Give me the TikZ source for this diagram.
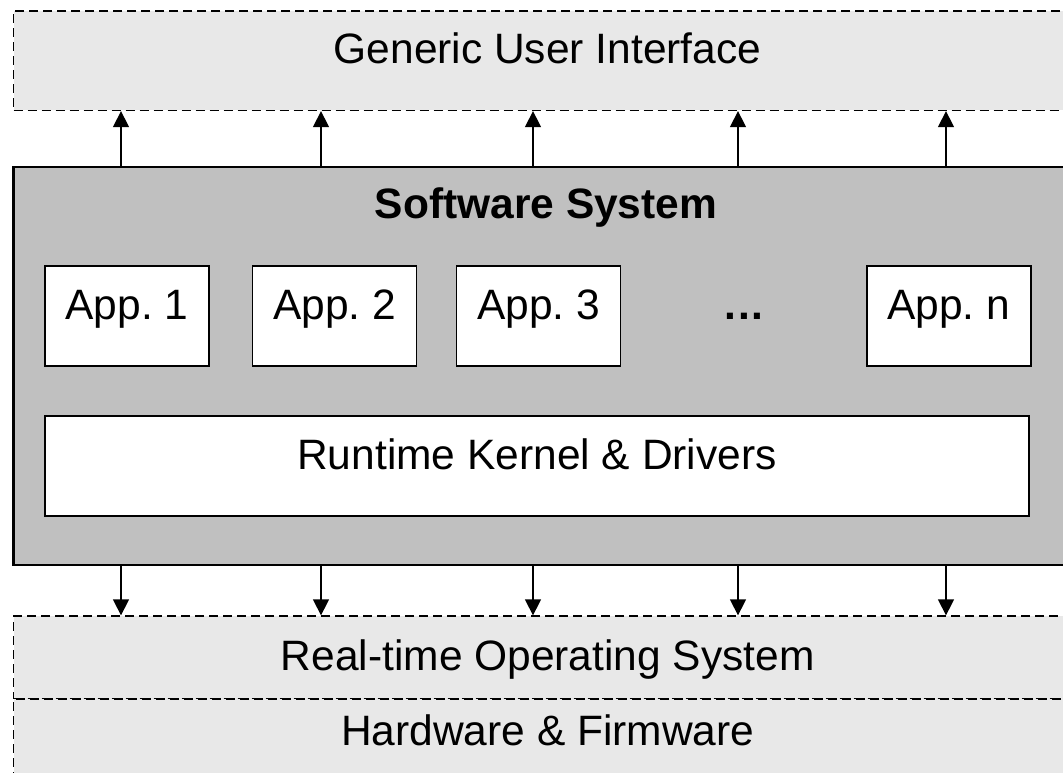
\documentclass[tikz,border=0pt]{standalone}
\usepackage{fontspec}
\setmainfont{Liberation Sans}
\usetikzlibrary{arrows.meta}

\definecolor{layerfill}{HTML}{E8E8E8}
\definecolor{sysfill}{HTML}{C0C0C0}

\tikzset{
  layerbox/.style={draw=black, fill=layerfill, line width=1.3pt,
    dash pattern=on 9pt off 5pt, inner sep=0pt},
  sysbox/.style={draw=black, fill=sysfill, line width=2.5pt, inner sep=0pt},
  appbox/.style={draw=black, fill=white, line width=1.5pt, inner sep=0pt,
    minimum width=164pt, minimum height=100pt},
  lbl/.style={anchor=base, inner sep=0pt, font=\fontsize{42.5}{50}\selectfont},
  boldlbl/.style={lbl, font=\fontsize{42.5}{50}\selectfont\bfseries},
  arr/.style={line width=1.4pt, -{Triangle[length=16pt,width=16pt]}},
}

\begin{document}
\begin{tikzpicture}[x=1pt, y=-1pt]
  \useasboundingbox (0,0) rectangle (1063,773);
  \clip (0,0) rectangle (1063,773);

  % upper layer
  \node[layerbox, minimum width=1068.5pt, minimum height=99.5pt] (gui) at (547.75,60.75) {};
  \node[lbl] (guitext) at (547.5,64) {Generic User Interface};

  % software system
  \node[sysbox, minimum width=1068.5pt, minimum height=398pt] (sw) at (547.75,366) {};
  \node[boldlbl] (swtext) at (546,218) {Software System};

  % applications
  \node[appbox] (app1) at (127,316) {};
  \node[appbox] (app2) at (334.5,316) {};
  \node[appbox] (app3) at (538.7,316) {};
  \node[appbox] (appn) at (948.8,316) {};
  \node[lbl] at (127,319) {App.\ 1};
  \node[lbl] at (334.5,319) {App.\ 2};
  \node[lbl] at (538.7,319) {App.\ 3};
  \node[lbl] at (948.8,319) {App.\ n};
  \node[boldlbl] (dots) at (744,319) {.\kern2pt.\kern2pt.};

  % runtime kernel
  \node[appbox, minimum width=984pt, minimum height=100pt] (rk) at (537,466) {};
  \node[lbl] at (537,469) {Runtime Kernel \& Drivers};

  % lower layers
  \node[layerbox, minimum width=1068.5pt, minimum height=83pt] (rtos) at (547.75,657.5) {};
  \node[layerbox, minimum width=1068.5pt, minimum height=100pt] (hw) at (547.75,749) {};
  \node[lbl] at (547.75,670) {Real-time Operating System};
  \node[lbl] at (547.75,745) {Hardware \& Firmware};

  % connectors
  \foreach \i/\x in {1/121, 2/321, 3/533, 4/738, 5/946} {
    \coordinate (col\i) at (\x,0);
    \draw[arr] (col\i |- sw.north) -- (col\i |- gui.south);
    \draw[arr] (col\i |- sw.south) -- (col\i |- rtos.north);
  }
\end{tikzpicture}
\end{document}
